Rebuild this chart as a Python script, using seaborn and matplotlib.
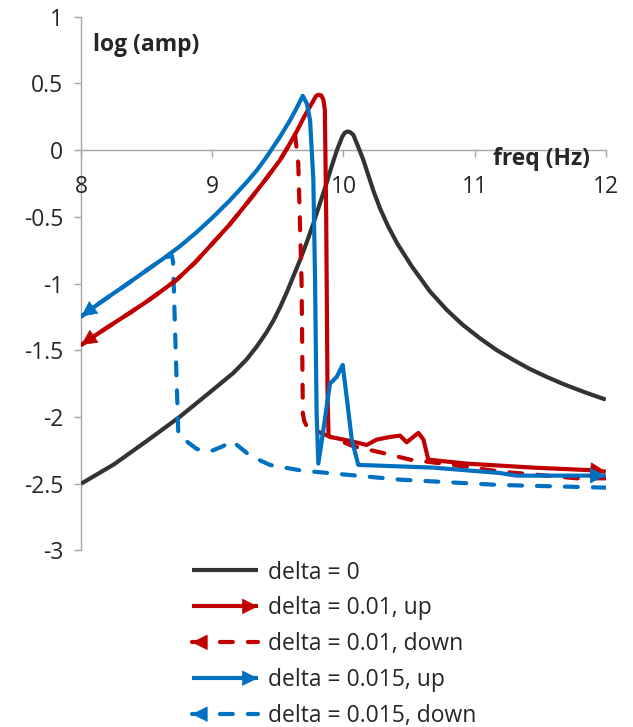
import numpy as np
import pandas as pd
import seaborn as sns
import matplotlib.pyplot as plt
from matplotlib.lines import Line2D
from matplotlib.patches import FancyArrowPatch
from matplotlib.legend_handler import HandlerBase

# ---- data ----
freq_d0 = [8.0, 8.25, 8.5, 8.75, 9.0, 9.16, 9.26, 9.34, 9.41, 9.47, 9.52, 9.57, 9.62,
           9.67, 9.72, 9.77, 9.82, 9.87, 9.91, 9.95, 9.99, 10.01, 10.03, 10.05, 10.075,
           10.11, 10.15, 10.19, 10.23, 10.28, 10.34, 10.41, 10.52, 10.66, 10.79, 10.91,
           11.04, 11.17, 11.30, 11.42, 11.55, 11.68, 11.84, 12.0]
amp_d0 = [-2.50, -2.355, -2.18, -2.00, -1.80, -1.67, -1.57, -1.47, -1.37, -1.27, -1.17,
          -1.06, -0.94, -0.82, -0.69, -0.55, -0.40, -0.25, -0.12, 0.0, 0.10, 0.13, 0.14,
          0.135, 0.115, 0.03, -0.07, -0.19, -0.31, -0.44, -0.57, -0.70, -0.87, -1.06,
          -1.20, -1.31, -1.41, -1.50, -1.575, -1.64, -1.70, -1.755, -1.815, -1.87]

freq_d01_up = [8.0, 8.12, 8.244, 8.37, 8.5, 8.62, 8.73, 8.87, 9.0, 9.13, 9.262, 9.39,
               9.516, 9.58, 9.643, 9.70, 9.77, 9.79, 9.808, 9.83, 9.846, 9.858, 9.868,
               9.878, 9.886, 9.90, 10.05, 10.177, 10.253, 10.355, 10.431, 10.482, 10.571,
               10.61, 10.647, 10.94, 11.45, 11.905, 12.0]
amp_d01_up = [-1.46, -1.38, -1.30, -1.22, -1.135, -1.05, -0.97, -0.84, -0.70, -0.56,
              -0.40, -0.24, -0.075, 0.03, 0.14, 0.25, 0.37, 0.405, 0.415, 0.41, 0.38, 0.30,
              -0.50, -1.80, -2.14, -2.15, -2.18, -2.21, -2.17, -2.15, -2.14, -2.19, -2.12,
              -2.17, -2.32, -2.35, -2.38, -2.40, -2.41]

freq_d01_down = [12.0, 11.78, 11.2, 10.76, 10.507, 10.30, 10.075, 9.90, 9.76, 9.72, 9.70,
                 9.69, 9.68, 9.655, 9.63, 9.58, 9.516, 9.39, 9.262, 9.13, 9.0, 8.87, 8.73,
                 8.62, 8.5, 8.37, 8.244, 8.12, 8.0]
amp_d01_down = [-2.46, -2.46, -2.41, -2.35, -2.32, -2.27, -2.22, -2.15, -2.09, -2.07,
                -2.03, -1.97, -0.97, -0.10, 0.12, 0.03, -0.075, -0.24, -0.40, -0.56, -0.70,
                -0.84, -0.97, -1.05, -1.135, -1.22, -1.30, -1.38, -1.46]

freq_d015_up = [8.0, 8.12, 8.244, 8.37, 8.499, 8.63, 8.753, 8.88, 9.007, 9.13, 9.262,
                9.34, 9.414, 9.516, 9.59, 9.64, 9.689, 9.72, 9.745, 9.770, 9.783, 9.795,
                9.808, 9.846, 9.897, 9.948, 9.994, 10.024, 10.063, 10.113, 10.126, 10.685,
                11.19, 11.32, 12.0]
amp_d015_up = [-1.247, -1.16, -1.075, -0.99, -0.90, -0.81, -0.72, -0.615, -0.50, -0.38,
               -0.24, -0.15, -0.05, 0.10, 0.22, 0.31, 0.407, 0.35, 0.225, -0.22, -0.97,
               -1.97, -2.35, -2.10, -1.75, -1.70, -1.61, -1.85, -2.17, -2.36, -2.36, -2.38,
               -2.42, -2.44, -2.44]

freq_d015_down = [12.0, 11.19, 10.43, 9.77, 9.668, 9.44, 9.35, 9.262, 9.20, 9.147, 9.08,
                  8.98, 8.88, 8.80, 8.755, 8.74, 8.72, 8.70, 8.69, 8.63, 8.499, 8.37, 8.244,
                  8.12, 8.0]
amp_d015_down = [-2.53, -2.51, -2.47, -2.41, -2.40, -2.36, -2.32, -2.27, -2.22, -2.18,
                 -2.22, -2.26, -2.24, -2.18, -2.15, -2.12, -1.50, -0.835, -0.79, -0.81,
                 -0.90, -0.99, -1.075, -1.16, -1.247]

labels = ['delta = 0', 'delta = 0.01, up', 'delta = 0.01, down',
          'delta = 0.015, up', 'delta = 0.015, down']

BLACK = '#333333'
RED = '#C00000'
BLUE = '#0070C0'
LW = 3.0
DASH = (0, (3.1, 3.6))
HEAD = 26


class ArrowLineHandler(HandlerBase):
    # legend sample: line with an arrow head at the right end (up) or left end (down)
    def __init__(self, color, ls='-', head=None):
        super().__init__()
        self.color = color
        self.ls = ls
        self.head = head

    def create_artists(self, legend, orig, xdescent, ydescent, width, height, fontsize, trans):
        y = height / 2 - ydescent
        x0, x1 = -xdescent, width - xdescent
        line = Line2D([x0, x1], [y, y], color=self.color, linewidth=LW, linestyle=self.ls,
                      dash_capstyle='round', solid_capstyle='butt', transform=trans)
        if self.head is None:
            return [line]
        if self.head == 'end':
            tail, tip = (x1 - 1, y), (x1, y)
        else:
            tail, tip = (x0 + 1, y), (x0, y)
        arrow = FancyArrowPatch(tail, tip, arrowstyle='-|>', mutation_scale=HEAD,
                                color=self.color, lw=0.5, shrinkA=0, shrinkB=0,
                                transform=trans)
        return [line, arrow]


def add_head(ax, xs, ys, color):
    tip = np.array([xs[-1], ys[-1]])
    prev = np.array([xs[-2], ys[-2]])
    tail = tip + 0.05 * (prev - tip)
    ax.annotate('', xy=tip, xytext=tail,
                arrowprops=dict(arrowstyle='-|>', color=color, lw=0.5,
                                mutation_scale=HEAD, shrinkA=0, shrinkB=0))


def main():
    sns.set_style('white')
    plt.rcParams['font.family'] = ['Open Sans', 'DejaVu Sans']
    plt.rcParams['font.size'] = 16.5

    fig = plt.figure(figsize=(6.33, 7.27), dpi=100)
    ax = fig.add_axes([0.1284, 0.2430, 0.8285, 0.7340])

    series = [
        (labels[0], freq_d0, amp_d0, BLACK, '-', None),
        (labels[4], freq_d015_down, amp_d015_down, BLUE, DASH, 'start'),
        (labels[2], freq_d01_down, amp_d01_down, RED, DASH, 'start'),
        (labels[1], freq_d01_up, amp_d01_up, RED, '-', 'end'),
        (labels[3], freq_d015_up, amp_d015_up, BLUE, '-', 'end'),
    ]
    handles = {}
    styles = {}
    for lab, xs, ys, color, ls, head in series:
        df = pd.DataFrame({'freq': xs, 'amp': ys})
        sns.lineplot(data=df, x='freq', y='amp', sort=False, estimator=None, color=color,
                     linewidth=LW, linestyle=ls, dash_capstyle='round',
                     solid_capstyle='butt', solid_joinstyle='round', ax=ax)
        handles[lab] = ax.get_lines()[-1]
        styles[lab] = (color, ls, head)
        if head:
            add_head(ax, xs, ys, color)

    ax.set_xlim(8, 12)
    ax.set_ylim(-3, 1)
    ax.set_xticks([8, 9, 10, 11, 12])
    ax.set_yticks([-3, -2.5, -2, -1.5, -1, -0.5, 0, 0.5, 1])
    ax.set_yticklabels(['-3', '-2.5', '-2', '-1.5', '-1', '-0.5', '0', '0.5', '1'])
    ax.set_xlabel('')
    ax.set_ylabel('')

    for s in ['top', 'right']:
        ax.spines[s].set_visible(False)
    ax.spines['bottom'].set_position(('data', 0))
    for s in ['left', 'bottom']:
        ax.spines[s].set_color('#a6a6a6')
        ax.spines[s].set_linewidth(1.0)
        ax.spines[s].set_zorder(0.5)
    ax.tick_params(axis='x', direction='out', length=5, width=1, color='#a6a6a6', pad=13,
                   labelsize=16.5)
    ax.tick_params(axis='y', direction='out', length=5, width=1, color='#a6a6a6', pad=8,
                   labelsize=16.5)
    ax.tick_params(bottom=True, left=True)

    ax.text(8.09, 0.88, 'log (amp)', ha='left', va='top', fontweight='bold', fontsize=16.5)
    ax.text(11.88, 0.02, 'freq (Hz)', ha='right', va='top', fontweight='bold', fontsize=16.5)

    hmap = {handles[l]: ArrowLineHandler(*styles[l]) for l in labels}
    fig.legend([handles[l] for l in labels], labels, handler_map=hmap,
               loc='upper left', bbox_to_anchor=(0.3033, 0.2290), frameon=False,
               borderpad=0, borderaxespad=0, handlelength=2.87, handletextpad=0.43,
               labelspacing=0.52, fontsize=16.5)

    fig.savefig('out.png', dpi=100)


if __name__ == '__main__':
    main()
